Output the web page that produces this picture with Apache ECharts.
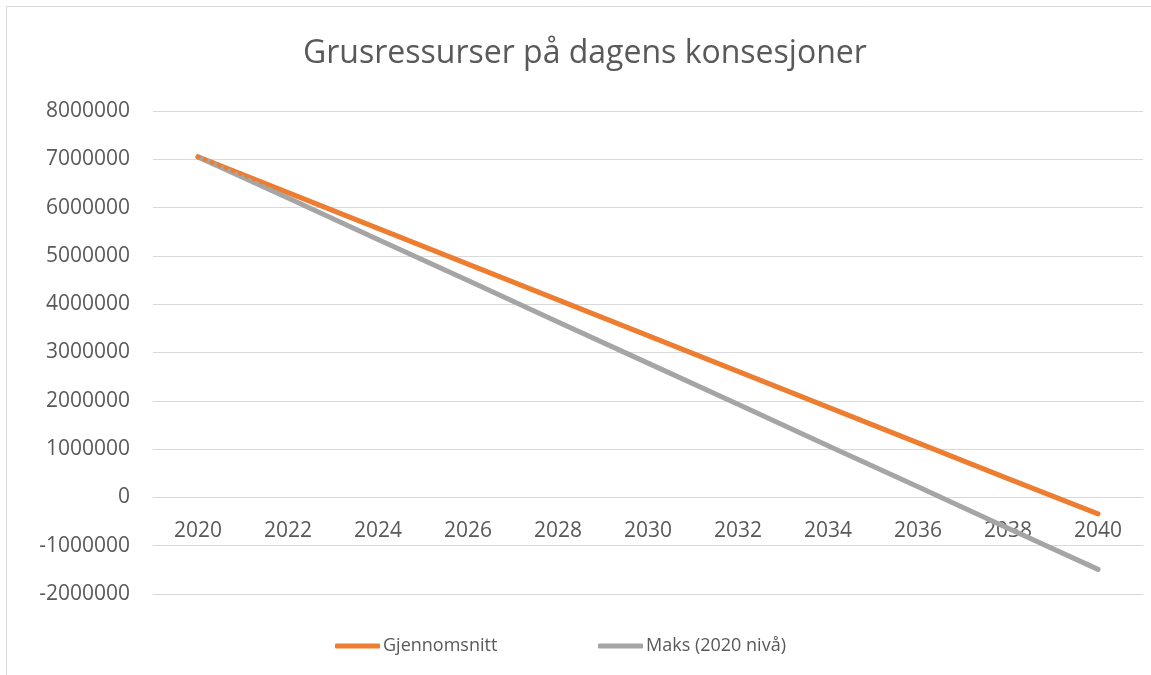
<!DOCTYPE html>
<html>
<head>
<meta charset="utf-8">
<script src="https://cdn.jsdelivr.net/npm/echarts@6/dist/echarts.min.js"></script>
<style>
  html, body { margin: 0; padding: 0; background: #fff; }
  #chart { width: 1151px; height: 675px; }
</style>
</head>
<body>
<div id="chart"></div>
<script>
var years = ['2020', '2022', '2024', '2026', '2028', '2030', '2032', '2034', '2036', '2038', '2040']
var gjennomsnitt = [7050000, 6310000, 5570000, 4830000, 4090000, 3350000, 2610000, 1870000, 1130000, 390000, -340000]
var maks = [7050000, 6200000, 5340000, 4490000, 3630000, 2780000, 1930000, 1070000, 220000, -640000, -1490000]
// first segment of Gjennomsnitt is drawn dotted
var gjennomsnittStart = [7050000, 6310000]

var myChart = echarts.init(document.getElementById('chart'))
var font = '"Open Sans", "Noto Sans", sans-serif'
var legendText = { fontFamily: font, fontSize: 18, color: '#595959', padding: [0, 0, 0, -2] }
var option = {
    backgroundColor: '#fff',
    animation: false,
    textStyle: { fontFamily: font },
    graphic: [{
        type: 'rect',
        shape: { x: 6.5, y: 6.5, width: 1200, height: 700 },
        style: { fill: 'none', stroke: '#d9d9d9', lineWidth: 1 },
        silent: true
    }],
    title: {
        text: 'Grusressurser på dagens konsesjoner',
        left: 298,
        top: 33,
        textStyle: { fontFamily: font, fontSize: 32, fontWeight: 'normal', color: '#595959' }
    },
    legend: [{
        top: 632,
        left: 330,
        data: ['Gjennomsnitt'],
        icon: 'roundRect',
        itemWidth: 45,
        itemHeight: 5,
        textStyle: legendText
    }, {
        top: 632,
        left: 593,
        data: ['Maks (2020 nivå)'],
        icon: 'roundRect',
        itemWidth: 45,
        itemHeight: 5,
        textStyle: legendText
    }],
    grid: {
        left: 153,
        right: 8,
        top: 111,
        bottom: 81,
        containLabel: false
    },
    xAxis: {
        type: 'category',
        data: years,
        offset: -97,
        axisLine: { show: false, onZero: false },
        axisTick: { show: false },
        axisLabel: { fontSize: 21, color: '#595959', margin: 24, fontFamily: font }
    },
    yAxis: {
        type: 'value',
        min: -2000000,
        max: 8000000,
        interval: 1000000,
        axisLine: { show: false },
        axisTick: { show: false },
        splitLine: { lineStyle: { color: '#d9d9d9', width: 1 } },
        axisLabel: {
            fontSize: 21, color: '#595959', margin: 23, fontFamily: font,
            formatter: function (v) { return String(v) }
        }
    },
    series: [
        {
            name: 'Gjennomsnitt',
            type: 'line',
            data: gjennomsnitt,
            symbol: 'none',
            z: 2,
            itemStyle: { color: '#ED7D31' },
            lineStyle: { color: '#ED7D31', width: 5, cap: 'round', join: 'round' }
        },
        {
            name: 'Maks (2020 nivå)',
            type: 'line',
            data: maks,
            symbol: 'none',
            z: 3,
            itemStyle: { color: '#A5A5A5' },
            lineStyle: { color: '#A5A5A5', width: 5, cap: 'round', join: 'round' }
        },
        {
            name: 'Gjennomsnitt',
            type: 'line',
            data: gjennomsnittStart,
            symbol: 'none',
            z: 4,
            itemStyle: { color: '#ED7D31' },
            lineStyle: { color: '#ED7D31', width: 4.5, type: [0.5, 7], cap: 'round' }
        }
    ]
}
myChart.setOption(option)
</script>
</body>
</html>
